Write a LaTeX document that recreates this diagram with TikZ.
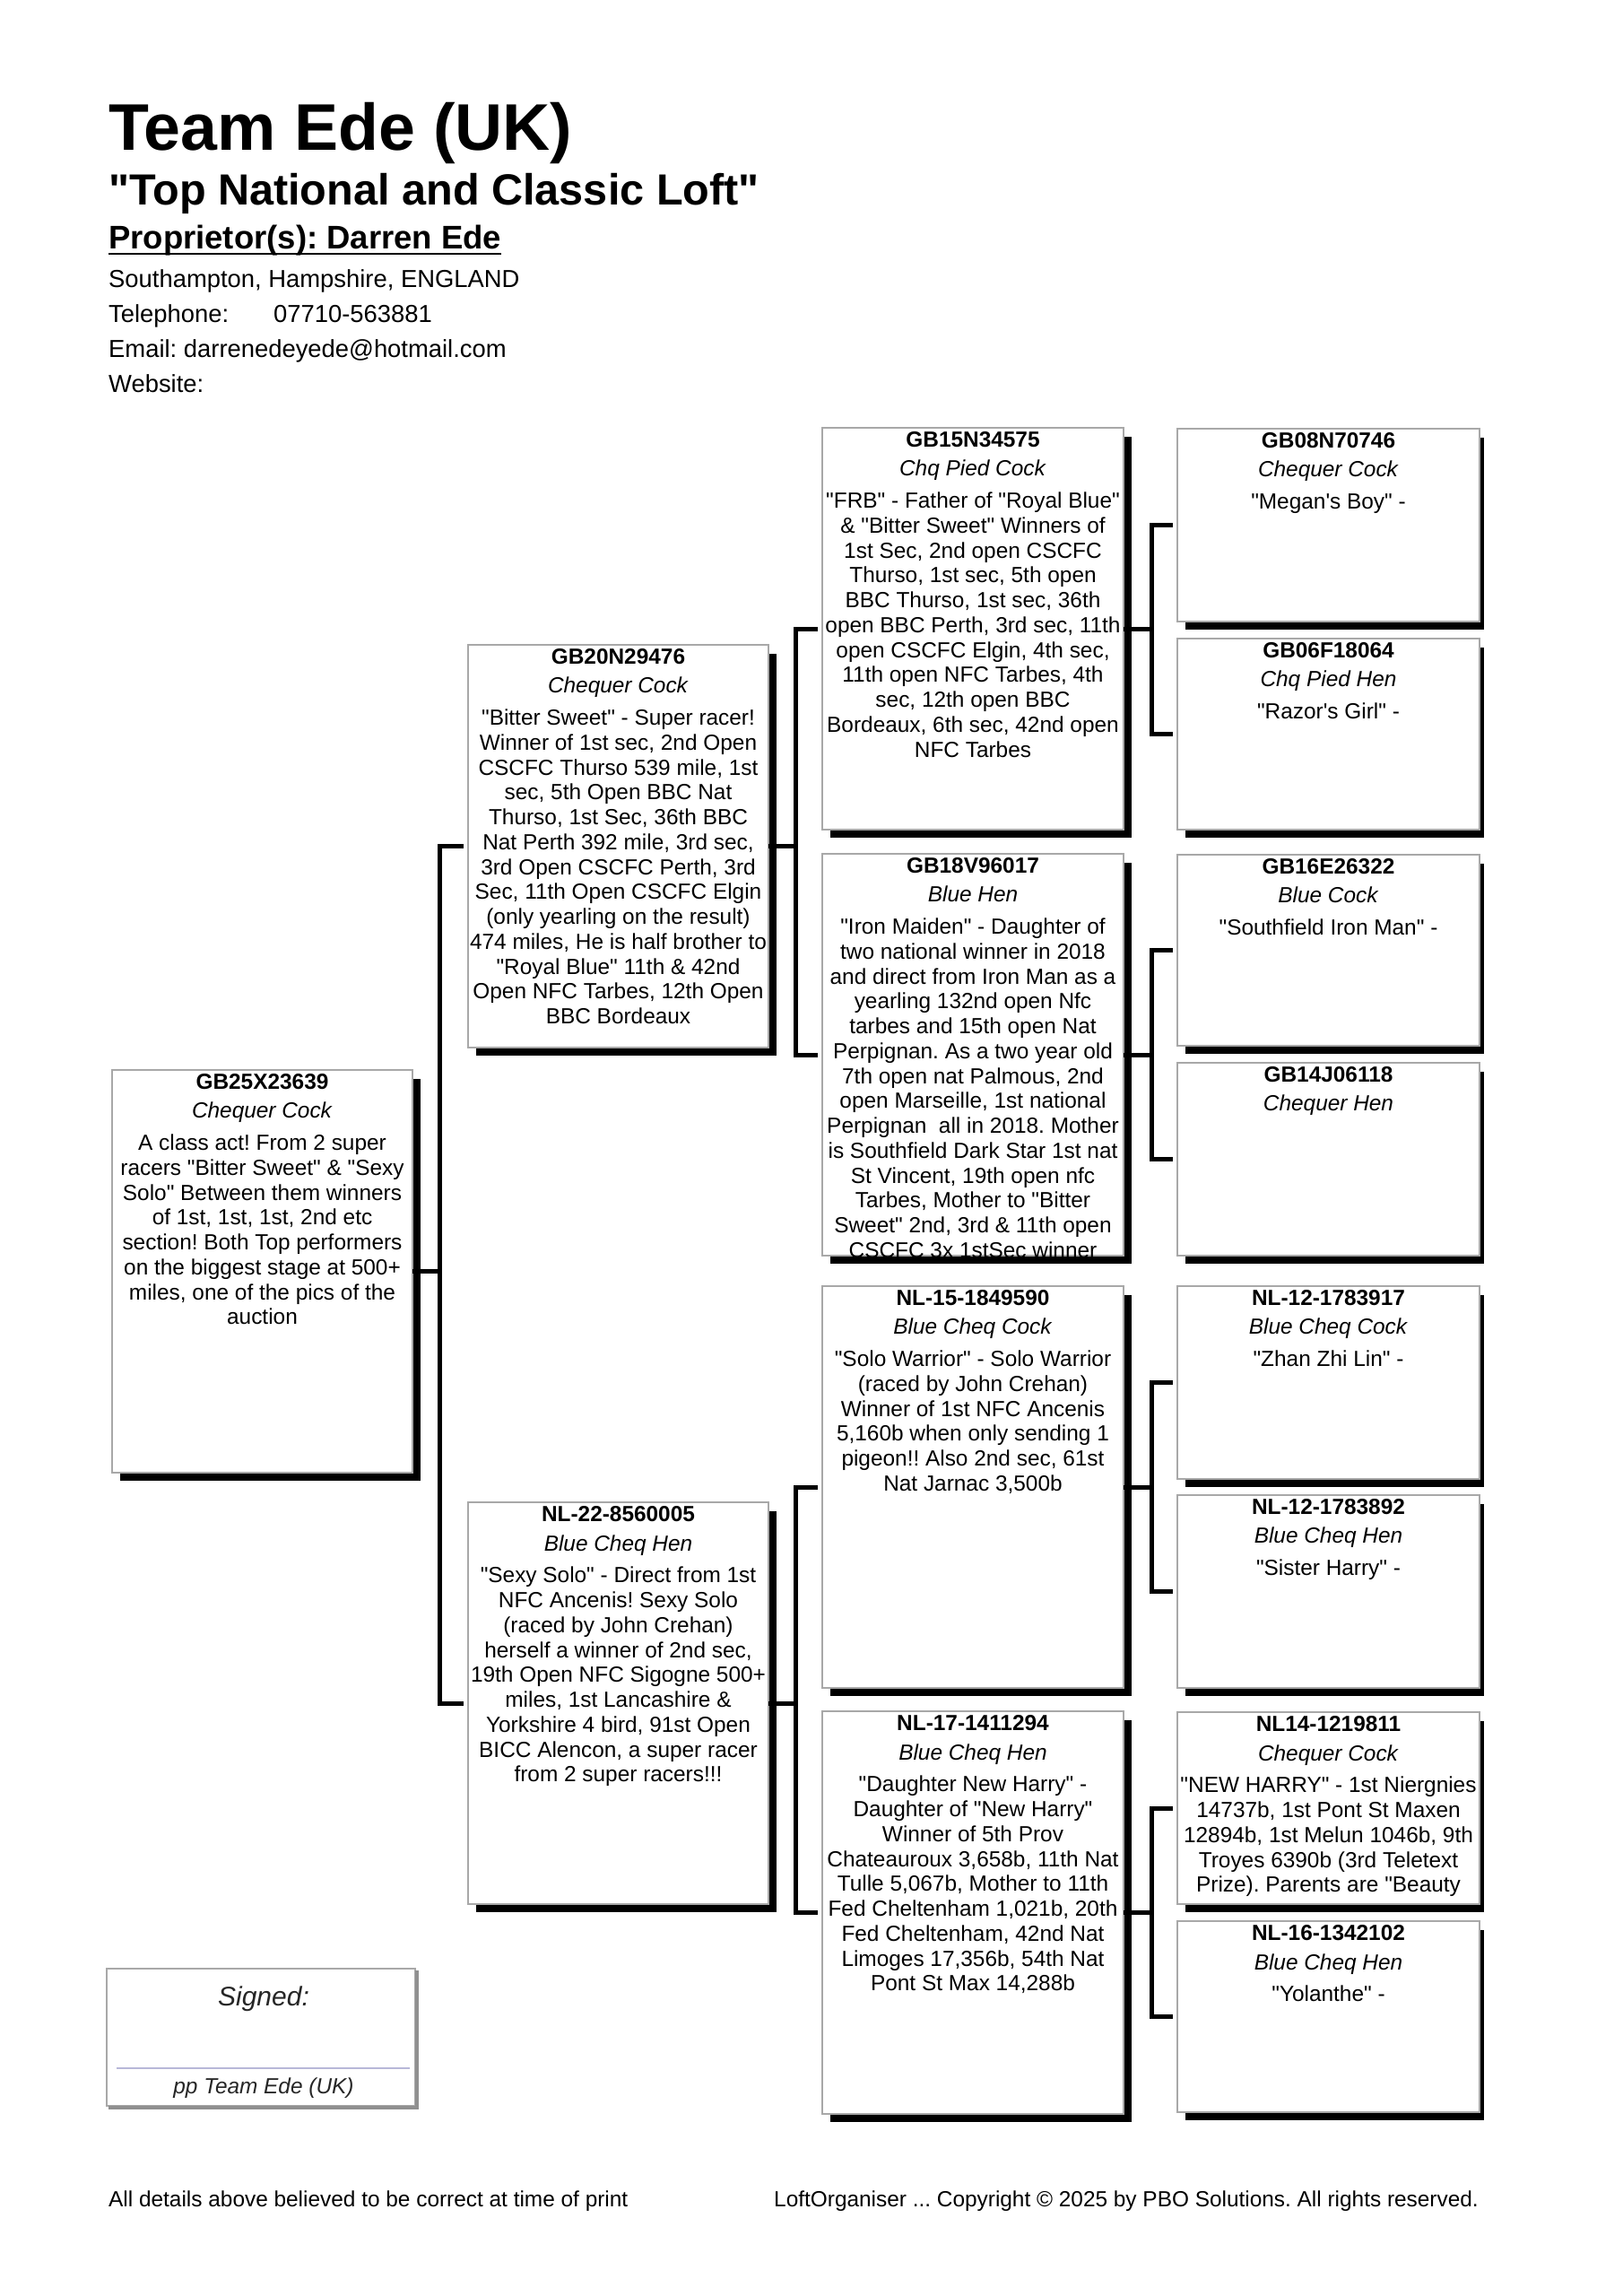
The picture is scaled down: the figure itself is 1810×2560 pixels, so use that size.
\documentclass[tikz,border=0pt]{standalone}
\usepackage{fontspec}
\setmainfont{Liberation Sans}[Ligatures=TeXOff]
\usetikzlibrary{calc}
\definecolor{boxgray}{HTML}{A8A8A8}
\definecolor{sigline}{HTML}{B8B8D8}
\definecolor{sigshade}{HTML}{909090}
\newcommand\bodyfs{\fontsize{24.4}{27.75}\selectfont\frenchspacing}
\newcommand\pedbox[9]{%
  \node[pbox, minimum width=#4pt, minimum height=#5pt, anchor=north west] (#1) at (#2,#3) {};
  \begin{scope}
    \clip ($(#1.north west)+(-30,0)$) rectangle ($(#1.south east)+(30,0)$);
    \node[ptext, anchor=north] (#1-txt) at ($(#1.north)+(0,1.6)$) {\strut\textbf{#6}\\[5pt]\textit{#7}\\[8pt]#8};
  \end{scope}
  \fill[black] ($(#1.north east)+(1,10)$) rectangle ($(#1.south east)+(#9,9)$);
  \fill[black] ($(#1.south west)+(9,1)$) rectangle ($(#1.south east)+(#9,9)$);
}
\begin{document}
\begin{tikzpicture}[x=1pt,y=-1pt,
  pbox/.style={draw=boxgray, line width=1.2pt, inner sep=0pt, outer sep=0pt, rectangle},
  ptext/.style={inner sep=0pt, align=center, font=\bodyfs},
  conn/.style={line width=5pt, black, line join=miter},
  kid/.style={shorten <=5pt, shorten >=5pt},
  hdr/.style={anchor=base west, inner sep=0pt}]
\frenchspacing
\fill[white] (0,0) rectangle (1810,2560);
\useasboundingbox (0,0) rectangle (1810,2560);

% ---------- header ----------
\node[hdr, font=\fontsize{73.5}{80}\selectfont\bfseries] (title) at (121,167) {Team Ede (UK)};
\node[hdr, font=\fontsize{48.6}{54}\selectfont\bfseries] (subtitle) at (121,228) {"Top National and Classic Loft"};
\node[hdr, font=\fontsize{36.5}{40}\selectfont\bfseries] (prop) at (121,277) {Proprietor(s): Darren Ede};
\draw[line width=2.8pt] ([yshift=-6pt]prop.base west) -- ([yshift=-6pt]prop.base east);
\node[hdr, font=\fontsize{27.4}{39}\selectfont] (addr) at (121,320) {Southampton, Hampshire, ENGLAND};
\node[hdr, font=\fontsize{27.4}{39}\selectfont] (tel) at (121,359) {Telephone:};
\node[hdr, font=\fontsize{27.4}{39}\selectfont] (telno) at (305,359) {07710-563881};
\node[hdr, font=\fontsize{27.4}{39}\selectfont] (email) at (121,398) {Email: darrenedeyede@hotmail.com};
\node[hdr, font=\fontsize{27.4}{39}\selectfont] (web) at (121,437) {Website:};

% ---------- generation 0 ----------
\pedbox{g0}{125}{1193}{335}{449}{GB25X23639}{Chequer Cock}{A class act! From 2 super\\racers "Bitter Sweet" \& "Sexy\\Solo" Between them winners\\of 1st, 1st, 1st, 2nd etc\\section! Both Top performers\\on the biggest stage at 500+\\miles, one of the pics of the\\auction}{9}

% ---------- generation 1 ----------
\pedbox{s}{522}{719}{335}{449}{GB20N29476}{Chequer Cock}{"Bitter Sweet" - Super racer!\\Winner of 1st sec, 2nd Open\\CSCFC Thurso 539 mile, 1st\\sec, 5th Open BBC Nat\\Thurso, 1st Sec, 36th BBC\\Nat Perth 392 mile, 3rd sec,\\3rd Open CSCFC Perth, 3rd\\Sec, 11th Open CSCFC Elgin\\(only yearling on the result)\\474 miles, He is half brother to\\"Royal Blue" 11th \& 42nd\\Open NFC Tarbes, 12th Open\\BBC Bordeaux}{9}
\pedbox{d}{522}{1675}{335}{448}{NL-22-8560005}{Blue Cheq Hen}{"Sexy Solo" - Direct from 1st\\NFC Ancenis! Sexy Solo\\(raced by John Crehan)\\herself a winner of 2nd sec,\\19th Open NFC Sigogne 500+\\miles, 1st Lancashire \&\\Yorkshire 4 bird, 91st Open\\BICC Alencon, a super racer\\from 2 super racers!!!}{9}

% ---------- generation 2 ----------
\pedbox{ss}{917}{477}{336}{448}{GB15N34575}{Chq Pied Cock}{"FRB" - Father of "Royal Blue"\\\& "Bitter Sweet" Winners of\\1st Sec, 2nd open CSCFC\\Thurso, 1st sec, 5th open\\BBC Thurso, 1st sec, 36th\\open BBC Perth, 3rd sec, 11th\\open CSCFC Elgin, 4th sec,\\11th open NFC Tarbes, 4th\\sec, 12th open BBC\\Bordeaux, 6th sec, 42nd open\\NFC Tarbes}{9}
\pedbox{sd}{917}{952}{336}{448}{GB18V96017}{Blue Hen}{"Iron Maiden" - Daughter of\\two national winner in 2018\\and direct from Iron Man as a\\yearling 132nd open Nfc\\tarbes and 15th open Nat\\Perpignan. As a two year old\\7th open nat Palmous, 2nd\\open Marseille, 1st national\\Perpignan\ \ all in 2018. Mother\\is Southfield Dark Star 1st nat\\St Vincent, 19th open nfc\\Tarbes, Mother to "Bitter\\Sweet" 2nd, 3rd \& 11th open\\CSCFC 3x 1stSec winner}{9}
\pedbox{ds}{917}{1434}{336}{448}{NL-15-1849590}{Blue Cheq Cock}{"Solo Warrior" - Solo Warrior\\(raced by John Crehan)\\Winner of 1st NFC Ancenis\\5,160b when only sending 1\\pigeon!! Also 2nd sec, 61st\\Nat Jarnac 3,500b}{9}
\pedbox{dd}{917}{1908}{336}{449}{NL-17-1411294}{Blue Cheq Hen}{"Daughter New Harry" -\\Daughter of "New Harry"\\Winner of 5th Prov\\Chateauroux 3,658b, 11th Nat\\Tulle 5,067b, Mother to 11th\\Fed Cheltenham 1,021b, 20th\\Fed Cheltenham, 42nd Nat\\Limoges 17,356b, 54th Nat\\Pont St Max 14,288b}{9}

% ---------- generation 3 ----------
\pedbox{sss}{1313}{478}{337}{215}{GB08N70746}{Chequer Cock}{"Megan's Boy" -}{5}
\pedbox{ssd}{1313}{712}{337}{213}{GB06F18064}{Chq Pied Hen}{"Razor's Girl" -}{5}
\pedbox{sds}{1313}{953}{337}{213}{GB16E26322}{Blue Cock}{"Southfield Iron Man" -}{5}
\pedbox{sdd}{1313}{1185}{337}{215}{GB14J06118}{Chequer Hen}{}{5}
\pedbox{dss}{1313}{1434}{337}{215}{NL-12-1783917}{Blue Cheq Cock}{"Zhan Zhi Lin" -}{5}
\pedbox{dsd}{1313}{1667}{337}{215}{NL-12-1783892}{Blue Cheq Hen}{"Sister Harry" -}{5}
\pedbox{dds}{1313}{1909}{337}{214}{NL14-1219811}{Chequer Cock}{"NEW HARRY" - 1st Niergnies\\14737b, 1st Pont St Maxen\\12894b, 1st Melun 1046b, 9th\\Troyes 6390b (3rd Teletext\\Prize). Parents are "Beauty}{5}
\pedbox{ddd}{1313}{2142}{337}{213}{NL-16-1342102}{Blue Cheq Hen}{"Yolanthe" -}{5}

% ---------- connectors ----------
\coordinate (j0) at ($(g0.east)+(30,0)$);
\coordinate (j1s) at ($(s.east)+(30,0)$);
\coordinate (j1d) at ($(d.east)+(30,0)$);
\coordinate (j2ss) at ($(ss.east)+(31,0)$);
\coordinate (j2sd) at ($(sd.east)+(31,0)$);
\coordinate (j2ds) at ($(ds.east)+(31,0)$);
\coordinate (j2dd) at ($(dd.east)+(31,0)$);

\draw[conn] (g0.east) -- (j0);
\draw[conn, kid] (s.west) -| (j0) |- (d.west);

\draw[conn] (s.east) -- (j1s);
\draw[conn, kid] (ss.west) -| (j1s) |- (sd.west);
\draw[conn] (d.east) -- (j1d);
\draw[conn, kid] (ds.west) -| (j1d) |- (dd.west);

\draw[conn] (ss.east) -- (j2ss);
\draw[conn, kid] (sss.west) -| (j2ss) |- (ssd.west);
\draw[conn] (sd.east) -- (j2sd);
\draw[conn, kid] (sds.west) -| (j2sd) |- (sdd.west);
\draw[conn] (ds.east) -- (j2ds);
\draw[conn, kid] (dss.west) -| (j2ds) |- (dsd.west);
\draw[conn] (dd.east) -- (j2dd);
\draw[conn, kid] (dds.west) -| (j2dd) |- (ddd.west);

% ---------- signature box ----------
\node[draw=boxgray, line width=1.5pt, inner sep=0pt, outer sep=0pt, minimum width=344pt, minimum height=153pt, anchor=north west] (sig) at (119,2195) {};
\fill[sigshade] ($(sig.north east)+(0,2)$) rectangle ($(sig.south east)+(4,4)$);
\fill[sigshade] ($(sig.south west)+(2,0)$) rectangle ($(sig.south east)+(4,4)$);
\node[anchor=base, inner sep=0pt, font=\fontsize{30}{34}\selectfont\itshape, text=black!85] (signed) at (294,2236) {Signed:};
\draw[sigline, line width=1.5pt] ($(sig.south west)+(11,-42)$) coordinate (sl1) -- ($(sig.south east)+(-6,-42)$) coordinate (sl2);
\node[anchor=base, inner sep=0pt, font=\fontsize{24.4}{28}\selectfont\itshape, text=black!85] (pp) at (294,2334) {pp Team Ede (UK)};

% ---------- footer ----------
\node[hdr, font=\fontsize{24.4}{28}\selectfont] (foot1) at (121,2460) {All details above believed to be correct at time of print};
\node[anchor=base east, inner sep=0pt, font=\fontsize{24.4}{28}\selectfont] (foot2) at (1649,2460) {LoftOrganiser ... Copyright © 2025 by PBO Solutions. All rights reserved.};
\end{tikzpicture}
\end{document}
